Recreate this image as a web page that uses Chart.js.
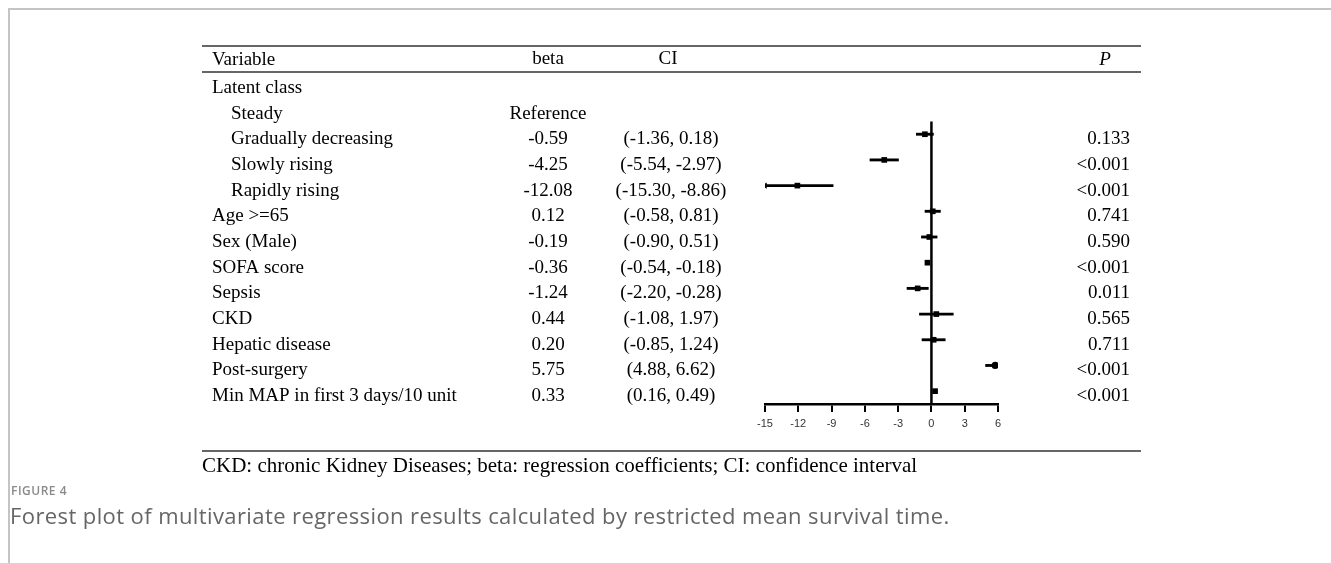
<!DOCTYPE html>
<html>
<head>
<meta charset="utf-8">
<script src="https://cdn.jsdelivr.net/npm/chart.js@4.4.0/dist/chart.umd.min.js"></script>
<style>
  body { margin: 0; background: #fff; }
  #wrap { position: relative; width: 1331px; height: 563px; overflow: hidden; }
  #frame { position: absolute; left: 8px; top: 8px; right: -5px; bottom: -5px;
           border-top: 2px solid #c4c4c4; border-left: 2px solid #c4c4c4; }
  canvas { position: absolute; left: 0; top: 0; }
  #figLabel { position: absolute; left: 11px; top: 482px; font: 600 12px "Open Sans", sans-serif;
              color: #8a8a8a; letter-spacing: 0.5px; }
  #caption { position: absolute; left: 10px; top: 500px; font: 22px "Open Sans", sans-serif;
             color: #666; letter-spacing: 0.4px; white-space: nowrap; line-height: 30px; }
</style>
</head>
<body>
<div id="wrap">
  <div id="frame"></div>
  <canvas id="forest" width="1331" height="563"></canvas>
  <div id="figLabel">FIGURE 4</div>
  <div id="caption">Forest plot of multivariate regression results calculated by restricted mean survival time.</div>
</div>
<script>
// ======================
// DATA
// ======================
const variables = ["Latent class", "Steady", "Gradually decreasing", "Slowly rising", "Rapidly rising",
    "Age >=65", "Sex (Male)", "SOFA score", "Sepsis", "CKD", "Hepatic disease", "Post-surgery",
    "Min MAP in first 3 days/10 unit"];
const subRow = [false, true, true, true, true, false, false, false, false, false, false, false, false];
const refText = ["", "Reference", "", "", "", "", "", "", "", "", "", "", ""];
const beta = [null, null, -0.59, -4.25, -12.08, 0.12, -0.19, -0.36, -1.24, 0.44, 0.20, 5.75, 0.33];
const ciLow = [null, null, -1.36, -5.54, -15.30, -0.58, -0.90, -0.54, -2.20, -1.08, -0.85, 4.88, 0.16];
const ciHigh = [null, null, 0.18, -2.97, -8.86, 0.81, 0.51, -0.18, -0.28, 1.97, 1.24, 6.62, 0.49];
const pValues = ["", "", "0.133", "<0.001", "<0.001", "0.741", "0.590", "<0.001", "0.011", "0.565", "0.711", "<0.001", "<0.001"];
const markerStyle = ["rect", "rect", "rect", "rect", "rect", "rect", "rect", "rect", "rect", "rect", "rect", "circle", "rect"];

const xMin = -15;
const xMax = 6;
const xStep = 3;
const footnote = "CKD: chronic Kidney Diseases; beta: regression coefficients; CI: confidence interval";


// ======================
// TABLE TEXT + RULES
// ======================
const SERIF = '"Liberation Serif", "Times New Roman", serif';
const TABLE_LEFT = 202, TABLE_RIGHT = 1141;
const COL_VAR = 212, COL_SUB = 231, COL_BETA = 548, COL_CI = 671, COL_P = 1130;

const tablePlugin = {
    id: "table",
    beforeDatasetsDraw(chart) {
        // zero reference line
        const ctx = chart.ctx;
        const xs = chart.scales.x, ys = chart.scales.y;
        const band = ys.getPixelForValue(1) - ys.getPixelForValue(0);
        const firstRow = beta.findIndex(v => v !== null);
        const x0 = xs.getPixelForValue(0);
        ctx.save();
        ctx.strokeStyle = "#000";
        ctx.lineWidth = 2.5;
        ctx.beginPath();
        ctx.moveTo(x0, ys.getPixelForValue(firstRow) - band / 2);
        ctx.lineTo(x0, chart.chartArea.bottom);
        ctx.stroke();
        ctx.restore();
    },
    afterDraw(chart) {
        const ctx = chart.ctx;
        const ys = chart.scales.y;
        ctx.save();

        // rules
        ctx.strokeStyle = "#333";
        ctx.lineWidth = 1.4;
        [46, 72, 451].forEach(y => {
            ctx.beginPath();
            ctx.moveTo(TABLE_LEFT, y);
            ctx.lineTo(TABLE_RIGHT, y);
            ctx.stroke();
        });

        ctx.fillStyle = "#000";
        ctx.textBaseline = "middle";
        ctx.font = "19px " + SERIF;

        // header
        ctx.textAlign = "left";
        ctx.fillText("Variable", COL_VAR, 60);
        ctx.textAlign = "center";
        ctx.fillText("beta", COL_BETA, 59);
        ctx.fillText("CI", 668, 59);
        ctx.font = "italic 19px " + SERIF;
        ctx.fillText("P", 1105, 60);
        ctx.font = "19px " + SERIF;

        // rows
        variables.forEach((name, i) => {
            const y = ys.getPixelForValue(i) + 5;
            ctx.textAlign = "left";
            ctx.fillText(name, subRow[i] ? COL_SUB : COL_VAR, y);
            ctx.textAlign = "center";
            if (beta[i] !== null) {
                ctx.fillText(beta[i].toFixed(2), COL_BETA, y);
                ctx.fillText("(" + ciLow[i].toFixed(2) + ", " + ciHigh[i].toFixed(2) + ")", COL_CI, y);
            } else if (refText[i]) {
                ctx.fillText(refText[i], COL_BETA, y);
            }
            ctx.textAlign = "right";
            if (pValues[i]) ctx.fillText(pValues[i], COL_P, y);
        });

        // footnote
        ctx.textAlign = "left";
        ctx.font = "21px " + SERIF;
        ctx.fillText(footnote, TABLE_LEFT, 466);
        ctx.restore();
    }
};


// ======================
// CHART SETUP
// ======================
const ciBars = variables.map((v, i) => beta[i] === null ? null : [ciLow[i], ciHigh[i]]);
const shown = variables.map((v, i) => i).filter(i => beta[i] !== null);
const points = shown.map(i => ({ x: beta[i], y: variables[i] }));
const pointStyles = shown.map(i => markerStyle[i]);
const pointSizes = shown.map(i => markerStyle[i] === "circle" ? 3.6 : 4);
const arrows = shown.filter(i => ciLow[i] < xMin).map(i => ({ x: xMin, y: variables[i] }));

new Chart(document.getElementById("forest"), {
    type: "bar",
    data: {
        labels: variables,
        datasets: [
            {
                type: "bar",
                label: "CI",
                data: ciBars,
                backgroundColor: "#000",
                borderWidth: 0,
                barThickness: 2.2,
                order: 2
            },
            {
                type: "scatter",
                label: "beta",
                data: points,
                pointStyle: pointStyles,
                pointRadius: pointSizes,
                backgroundColor: "#000",
                borderColor: "#000",
                borderWidth: 0,
                order: 1
            },
            {
                type: "scatter",
                label: "clipped",
                data: arrows,
                pointStyle: "triangle",
                rotation: -90,
                pointRadius: 3.5,
                backgroundColor: "#000",
                borderColor: "#000",
                borderWidth: 0,
                order: 0
            }
        ]
    },
    options: {
        indexAxis: "y",
        responsive: false,
        animation: false,
        devicePixelRatio: 1,
        layout: { padding: { left: 765, right: 333, top: 70, bottom: 119 } },
        plugins: { legend: { display: false }, tooltip: { enabled: false } },
        scales: {
            x: {
                type: "linear",
                position: "bottom",
                min: xMin,
                max: xMax,
                afterFit: scale => { scale.height = 40; },
                ticks: {
                    stepSize: xStep,
                    color: "#333",
                    padding: 5,
                    font: { family: '"Liberation Sans", Arial, sans-serif', size: 11 }
                },
                grid: {
                    display: true,
                    drawOnChartArea: false,
                    drawTicks: true,
                    tickLength: 8,
                    color: "#000",
                    lineWidth: 2
                },
                border: { display: true, color: "#000", width: 2.5 }
            },
            y: {
                type: "category",
                offset: true,
                display: false,
                grid: { display: false }
            }
        }
    },
    plugins: [tablePlugin]
});
</script>
</body>
</html>
